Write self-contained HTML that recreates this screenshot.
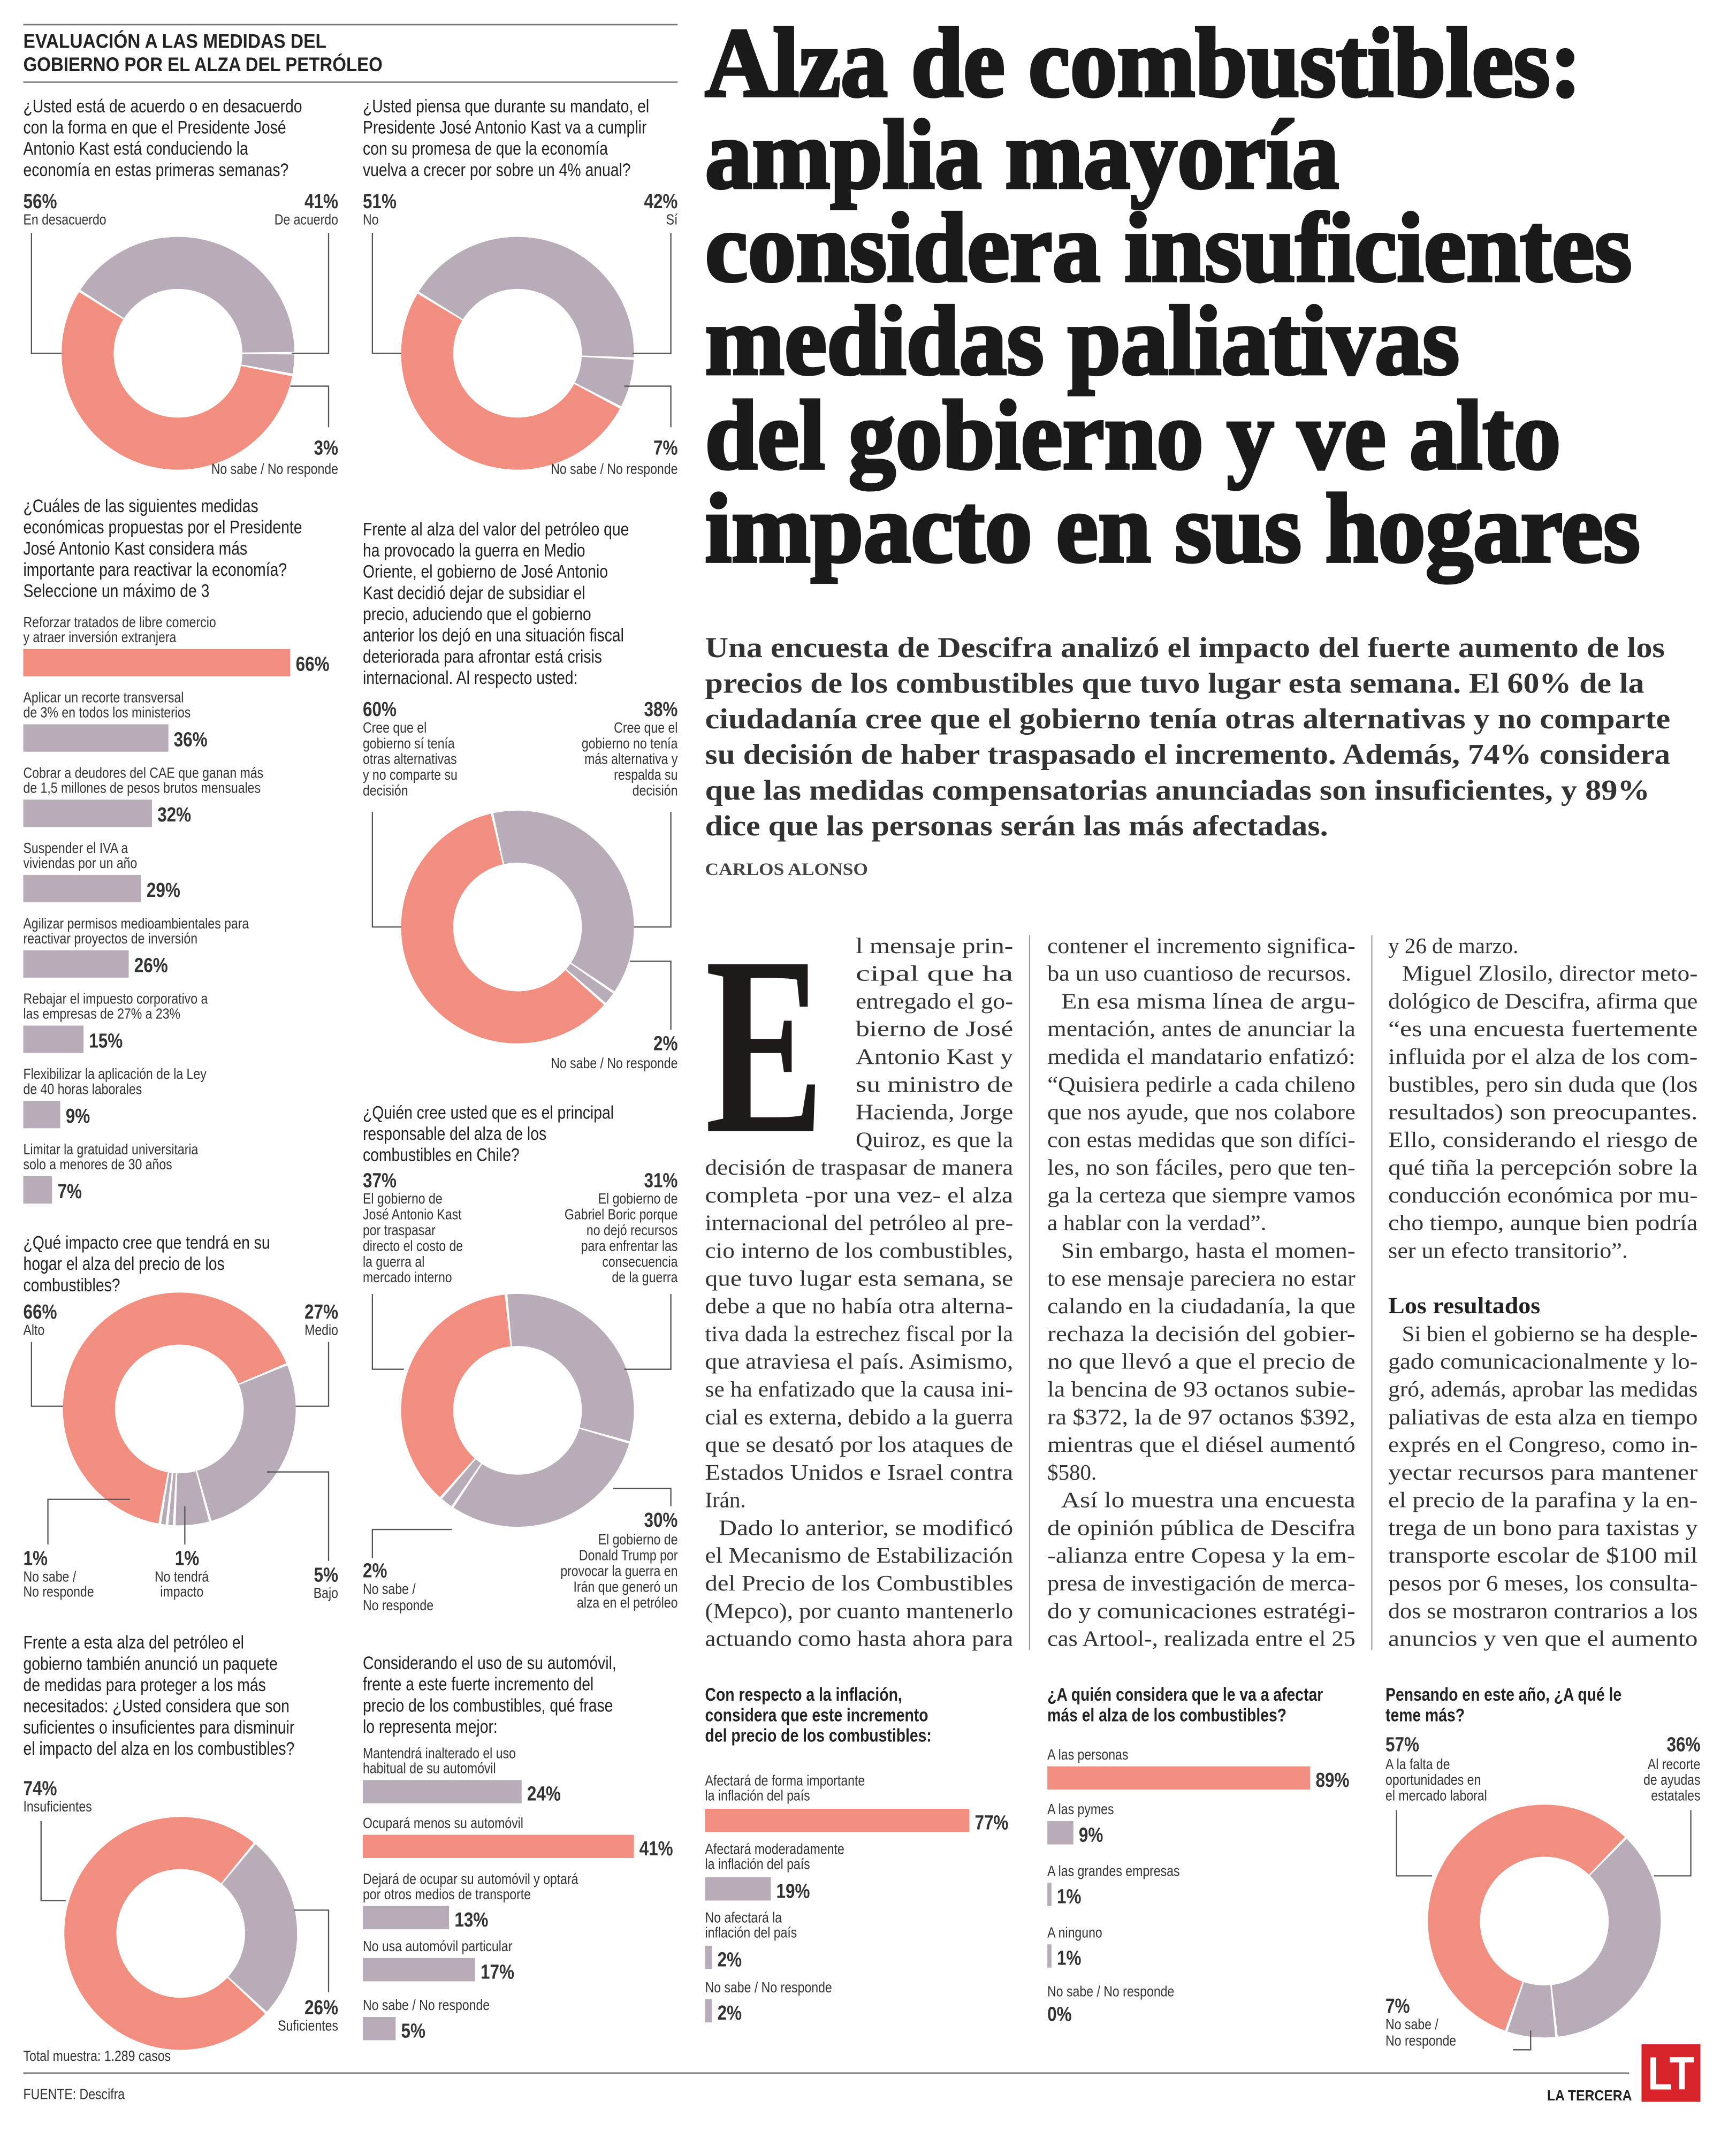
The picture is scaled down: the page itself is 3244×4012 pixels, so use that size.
<!DOCTYPE html>
<html><head><meta charset="utf-8"><style>
html,body{margin:0;padding:0;background:#fff;}
svg{display:block;}
.q{font-family:"Liberation Sans",sans-serif;font-size:13.5px;fill:#222;}
.qb{font-family:"Liberation Sans",sans-serif;font-size:13.5px;fill:#222;font-weight:bold;}
.s{font-family:"Liberation Sans",sans-serif;font-size:11px;fill:#333;}
.p{font-family:"Liberation Sans",sans-serif;font-size:15px;font-weight:bold;fill:#333;}
.h{font-family:"Liberation Sans",sans-serif;font-size:14.5px;font-weight:bold;fill:#222;}
.t{font-family:"Liberation Serif",serif;font-size:72px;font-weight:bold;fill:#1a1a1a;stroke:#1a1a1a;stroke-width:2.2;}
.d{font-family:"Liberation Serif",serif;font-size:21px;font-weight:bold;fill:#333;}
.b{font-family:"Liberation Serif",serif;font-size:16px;fill:#333;}
.ld{fill:none;stroke:#555;stroke-width:0.9;}
</style></head><body>
<svg width="3244" height="4012" viewBox="0 0 1268 1568" preserveAspectRatio="none" xmlns="http://www.w3.org/2000/svg">
<rect width="1268" height="1568" fill="#fff"/>
<!-- rules -->
<line x1="17" y1="18" x2="495" y2="18" stroke="#777" stroke-width="1"/>
<line x1="17" y1="60" x2="495" y2="60" stroke="#777" stroke-width="1"/>
<line x1="17" y1="1514" x2="1190" y2="1514" stroke="#777" stroke-width="1"/>
<line x1="752" y1="683" x2="752" y2="1205" stroke="#999" stroke-width="0.8"/>
<line x1="1002" y1="683" x2="1002" y2="1205" stroke="#999" stroke-width="0.8"/>

<!-- TITLE -->
<text class="t" x="515" y="70" textLength="640" lengthAdjust="spacingAndGlyphs">Alza de combustibles:</text>
<text class="t" x="515" y="137" textLength="463" lengthAdjust="spacingAndGlyphs">amplia mayoría</text>
<text class="t" x="515" y="205" textLength="677" lengthAdjust="spacingAndGlyphs">considera insuficientes</text>
<text class="t" x="515" y="273" textLength="551" lengthAdjust="spacingAndGlyphs">medidas paliativas</text>
<text class="t" x="515" y="342" textLength="625" lengthAdjust="spacingAndGlyphs">del gobierno y ve alto</text>
<text class="t" x="515" y="410" textLength="683" lengthAdjust="spacingAndGlyphs">impacto en sus hogares</text>

<!-- DECK -->
<text class="d" x="515" y="480" textLength="701" lengthAdjust="spacingAndGlyphs">Una encuesta de Descifra analizó el impacto del fuerte aumento de los</text>
<text class="d" x="515" y="506" textLength="686" lengthAdjust="spacingAndGlyphs">precios de los combustibles que tuvo lugar esta semana. El 60% de la</text>
<text class="d" x="515" y="532" textLength="705" lengthAdjust="spacingAndGlyphs">ciudadanía cree que el gobierno tenía otras alternativas y no comparte</text>
<text class="d" x="515" y="558" textLength="705" lengthAdjust="spacingAndGlyphs">su decisión de haber traspasado el incremento. Además, 74% considera</text>
<text class="d" x="515" y="584" textLength="690" lengthAdjust="spacingAndGlyphs">que las medidas compensatorias anunciadas son insuficientes, y 89%</text>
<text class="d" x="515" y="610" textLength="455" lengthAdjust="spacingAndGlyphs">dice que las personas serán las más afectadas.</text>
<text x="515" y="639" textLength="119" lengthAdjust="spacingAndGlyphs" style="font-family:'Liberation Serif',serif;font-size:13px;font-weight:bold;fill:#444;">CARLOS ALONSO</text>

<!-- DROP CAP -->
<text x="515" y="826" textLength="87" lengthAdjust="spacingAndGlyphs" style="font-family:'Liberation Serif',serif;font-size:186px;font-weight:bold;fill:#1e1a1a;">E</text>

<!-- BODY COL A -->
<g class="b">
<text x="625" y="696" textLength="115" lengthAdjust="spacingAndGlyphs">l mensaje prin-</text>
<text x="625" y="716.2" textLength="115" lengthAdjust="spacingAndGlyphs">cipal que ha</text>
<text x="625" y="736.5" textLength="115" lengthAdjust="spacingAndGlyphs">entregado el go-</text>
<text x="625" y="756.7" textLength="115" lengthAdjust="spacingAndGlyphs">bierno de José</text>
<text x="625" y="777" textLength="115" lengthAdjust="spacingAndGlyphs">Antonio Kast y</text>
<text x="625" y="797.2" textLength="115" lengthAdjust="spacingAndGlyphs">su ministro de</text>
<text x="625" y="817.4" textLength="115" lengthAdjust="spacingAndGlyphs">Hacienda, Jorge</text>
<text x="625" y="837.7" textLength="115" lengthAdjust="spacingAndGlyphs">Quiroz, es que la</text>
<text x="515" y="857.9" textLength="225" lengthAdjust="spacingAndGlyphs">decisión de traspasar de manera</text>
<text x="515" y="878.2" textLength="225" lengthAdjust="spacingAndGlyphs">completa -por una vez- el alza</text>
<text x="515" y="898.4" textLength="225" lengthAdjust="spacingAndGlyphs">internacional del petróleo al pre-</text>
<text x="515" y="918.6" textLength="225" lengthAdjust="spacingAndGlyphs">cio interno de los combustibles,</text>
<text x="515" y="938.9" textLength="225" lengthAdjust="spacingAndGlyphs">que tuvo lugar esta semana, se</text>
<text x="515" y="959.1" textLength="225" lengthAdjust="spacingAndGlyphs">debe a que no había otra alterna-</text>
<text x="515" y="979.4" textLength="225" lengthAdjust="spacingAndGlyphs">tiva dada la estrechez fiscal por la</text>
<text x="515" y="999.6" textLength="225" lengthAdjust="spacingAndGlyphs">que atraviesa el país. Asimismo,</text>
<text x="515" y="1019.8" textLength="225" lengthAdjust="spacingAndGlyphs">se ha enfatizado que la causa ini-</text>
<text x="515" y="1040.1" textLength="225" lengthAdjust="spacingAndGlyphs">cial es externa, debido a la guerra</text>
<text x="515" y="1060.3" textLength="225" lengthAdjust="spacingAndGlyphs">que se desató por los ataques de</text>
<text x="515" y="1080.6" textLength="225" lengthAdjust="spacingAndGlyphs">Estados Unidos e Israel contra</text>
<text x="515" y="1100.8">Irán.</text>
<text x="525" y="1121" textLength="215" lengthAdjust="spacingAndGlyphs">Dado lo anterior, se modificó</text>
<text x="515" y="1141.3" textLength="225" lengthAdjust="spacingAndGlyphs">el Mecanismo de Estabilización</text>
<text x="515" y="1161.5" textLength="225" lengthAdjust="spacingAndGlyphs">del Precio de los Combustibles</text>
<text x="515" y="1181.8" textLength="225" lengthAdjust="spacingAndGlyphs">(Mepco), por cuanto mantenerlo</text>
<text x="515" y="1202" textLength="225" lengthAdjust="spacingAndGlyphs">actuando como hasta ahora para</text>
</g>
<!-- BODY COL B -->
<g class="b">
<text x="765" y="696" textLength="225" lengthAdjust="spacingAndGlyphs">contener el incremento significa-</text>
<text x="765" y="716.2" textLength="222" lengthAdjust="spacingAndGlyphs">ba un uso cuantioso de recursos.</text>
<text x="775" y="736.5" textLength="215" lengthAdjust="spacingAndGlyphs">En esa misma línea de argu-</text>
<text x="765" y="756.7" textLength="225" lengthAdjust="spacingAndGlyphs">mentación, antes de anunciar la</text>
<text x="765" y="777" textLength="225" lengthAdjust="spacingAndGlyphs">medida el mandatario enfatizó:</text>
<text x="765" y="797.2" textLength="225" lengthAdjust="spacingAndGlyphs">“Quisiera pedirle a cada chileno</text>
<text x="765" y="817.4" textLength="225" lengthAdjust="spacingAndGlyphs">que nos ayude, que nos colabore</text>
<text x="765" y="837.7" textLength="225" lengthAdjust="spacingAndGlyphs">con estas medidas que son difíci-</text>
<text x="765" y="857.9" textLength="225" lengthAdjust="spacingAndGlyphs">les, no son fáciles, pero que ten-</text>
<text x="765" y="878.2" textLength="225" lengthAdjust="spacingAndGlyphs">ga la certeza que siempre vamos</text>
<text x="765" y="898.4" textLength="160" lengthAdjust="spacingAndGlyphs">a hablar con la verdad”.</text>
<text x="775" y="918.6" textLength="215" lengthAdjust="spacingAndGlyphs">Sin embargo, hasta el momen-</text>
<text x="765" y="938.9" textLength="225" lengthAdjust="spacingAndGlyphs">to ese mensaje pareciera no estar</text>
<text x="765" y="959.1" textLength="225" lengthAdjust="spacingAndGlyphs">calando en la ciudadanía, la que</text>
<text x="765" y="979.4" textLength="225" lengthAdjust="spacingAndGlyphs">rechaza la decisión del gobier-</text>
<text x="765" y="999.6" textLength="225" lengthAdjust="spacingAndGlyphs">no que llevó a que el precio de</text>
<text x="765" y="1019.8" textLength="225" lengthAdjust="spacingAndGlyphs">la bencina de 93 octanos subie-</text>
<text x="765" y="1040.1" textLength="225" lengthAdjust="spacingAndGlyphs">ra $372, la de 97 octanos $392,</text>
<text x="765" y="1060.3" textLength="225" lengthAdjust="spacingAndGlyphs">mientras que el diésel aumentó</text>
<text x="765" y="1080.6">$580.</text>
<text x="775" y="1100.8" textLength="215" lengthAdjust="spacingAndGlyphs">Así lo muestra una encuesta</text>
<text x="765" y="1121" textLength="225" lengthAdjust="spacingAndGlyphs">de opinión pública de Descifra</text>
<text x="765" y="1141.3" textLength="225" lengthAdjust="spacingAndGlyphs">-alianza entre Copesa y la em-</text>
<text x="765" y="1161.5" textLength="225" lengthAdjust="spacingAndGlyphs">presa de investigación de merca-</text>
<text x="765" y="1181.8" textLength="225" lengthAdjust="spacingAndGlyphs">do y comunicaciones estratégi-</text>
<text x="765" y="1202" textLength="225" lengthAdjust="spacingAndGlyphs">cas Artool-, realizada entre el 25</text>
</g>
<!-- BODY COL C -->
<g class="b">
<text x="1014" y="696">y 26 de marzo.</text>
<text x="1024" y="716.2" textLength="216" lengthAdjust="spacingAndGlyphs">Miguel Zlosilo, director meto-</text>
<text x="1014" y="736.5" textLength="226" lengthAdjust="spacingAndGlyphs">dológico de Descifra, afirma que</text>
<text x="1014" y="756.7" textLength="226" lengthAdjust="spacingAndGlyphs">“es una encuesta fuertemente</text>
<text x="1014" y="777" textLength="226" lengthAdjust="spacingAndGlyphs">influida por el alza de los com-</text>
<text x="1014" y="797.2" textLength="226" lengthAdjust="spacingAndGlyphs">bustibles, pero sin duda que (los</text>
<text x="1014" y="817.4" textLength="226" lengthAdjust="spacingAndGlyphs">resultados) son preocupantes.</text>
<text x="1014" y="837.7" textLength="226" lengthAdjust="spacingAndGlyphs">Ello, considerando el riesgo de</text>
<text x="1014" y="857.9" textLength="226" lengthAdjust="spacingAndGlyphs">qué tiña la percepción sobre la</text>
<text x="1014" y="878.2" textLength="226" lengthAdjust="spacingAndGlyphs">conducción económica por mu-</text>
<text x="1014" y="898.4" textLength="226" lengthAdjust="spacingAndGlyphs">cho tiempo, aunque bien podría</text>
<text x="1014" y="918.6" textLength="175" lengthAdjust="spacingAndGlyphs">ser un efecto transitorio”.</text>
<text x="1014" y="959.1" style="font-weight:bold;font-size:17px;fill:#222" textLength="111" lengthAdjust="spacingAndGlyphs">Los resultados</text>
<text x="1024" y="979.4" textLength="216" lengthAdjust="spacingAndGlyphs">Si bien el gobierno se ha desple-</text>
<text x="1014" y="999.6" textLength="226" lengthAdjust="spacingAndGlyphs">gado comunicacionalmente y lo-</text>
<text x="1014" y="1019.8" textLength="226" lengthAdjust="spacingAndGlyphs">gró, además, aprobar las medidas</text>
<text x="1014" y="1040.1" textLength="226" lengthAdjust="spacingAndGlyphs">paliativas de esta alza en tiempo</text>
<text x="1014" y="1060.3" textLength="226" lengthAdjust="spacingAndGlyphs">exprés en el Congreso, como in-</text>
<text x="1014" y="1080.6" textLength="226" lengthAdjust="spacingAndGlyphs">yectar recursos para mantener</text>
<text x="1014" y="1100.8" textLength="226" lengthAdjust="spacingAndGlyphs">el precio de la parafina y la en-</text>
<text x="1014" y="1121" textLength="226" lengthAdjust="spacingAndGlyphs">trega de un bono para taxistas y</text>
<text x="1014" y="1141.3" textLength="226" lengthAdjust="spacingAndGlyphs">transporte escolar de $100 mil</text>
<text x="1014" y="1161.5" textLength="226" lengthAdjust="spacingAndGlyphs">pesos por 6 meses, los consulta-</text>
<text x="1014" y="1181.8" textLength="226" lengthAdjust="spacingAndGlyphs">dos se mostraron contrarios a los</text>
<text x="1014" y="1202" textLength="226" lengthAdjust="spacingAndGlyphs">anuncios y ven que el aumento</text>
</g>

<!-- DONUTS (r=66, sw=38, C=414.69) -->
<g fill="none" stroke-width="38">
<!-- D1 -->
<circle cx="130" cy="258" r="66" stroke="#b7acb7" stroke-dasharray="168.5 500" transform="rotate(-147 130 258)"/>
<circle cx="130" cy="258" r="66" stroke="#b7acb7" stroke-dasharray="10.9 500" transform="rotate(0.6 130 258)"/>
<circle cx="130" cy="258" r="66" stroke="#f28e7f" stroke-dasharray="230.7 500" transform="rotate(11.4 130 258)"/>
<!-- D2 -->
<circle cx="378" cy="258" r="66" stroke="#b7acb7" stroke-dasharray="172.7 500" transform="rotate(-148 378 258)"/>
<circle cx="378" cy="258" r="66" stroke="#b7acb7" stroke-dasharray="27.5 500" transform="rotate(3.2 378 258)"/>
<circle cx="378" cy="258" r="66" stroke="#f28e7f" stroke-dasharray="210 500" transform="rotate(28.4 378 258)"/>
<!-- D3 -->
<circle cx="378" cy="677" r="66" stroke="#b7acb7" stroke-dasharray="156.1 500" transform="rotate(-102 378 677)"/>
<circle cx="378" cy="677" r="66" stroke="#b7acb7" stroke-dasharray="6.8 500" transform="rotate(34.8 378 677)"/>
<circle cx="378" cy="677" r="66" stroke="#f28e7f" stroke-dasharray="247.3 500" transform="rotate(42 378 677)"/>
<!-- D4 -->
<circle cx="131" cy="1029" r="66" stroke="#b7acb7" stroke-dasharray="110.5 500" transform="rotate(-22 131 1029)"/>
<circle cx="131" cy="1029" r="66" stroke="#b7acb7" stroke-dasharray="19.2 500" transform="rotate(75.2 131 1029)"/>
<circle cx="131" cy="1029" r="66" stroke="#b7acb7" stroke-dasharray="2.6 500" transform="rotate(93.2 131 1029)"/>
<circle cx="131" cy="1029" r="66" stroke="#b7acb7" stroke-dasharray="2.6 500" transform="rotate(96.8 131 1029)"/>
<circle cx="131" cy="1029" r="66" stroke="#f28e7f" stroke-dasharray="272.2 500" transform="rotate(100.4 131 1029)"/>
<!-- D5 -->
<circle cx="378" cy="1030" r="66" stroke="#b7acb7" stroke-dasharray="127.1 500" transform="rotate(-95 378 1030)"/>
<circle cx="378" cy="1030" r="66" stroke="#b7acb7" stroke-dasharray="122.9 500" transform="rotate(16.6 378 1030)"/>
<circle cx="378" cy="1030" r="66" stroke="#b7acb7" stroke-dasharray="6.8 500" transform="rotate(124.6 378 1030)"/>
<circle cx="378" cy="1030" r="66" stroke="#f28e7f" stroke-dasharray="151.9 500" transform="rotate(131.8 378 1030)"/>
<!-- D6 -->
<circle cx="132" cy="1412" r="66" stroke="#b7acb7" stroke-dasharray="106.3 500" transform="rotate(-50 132 1412)"/>
<circle cx="132" cy="1412" r="66" stroke="#f28e7f" stroke-dasharray="305.4 500" transform="rotate(43.6 132 1412)"/>
<!-- D7 -->
<circle cx="1128" cy="1403" r="66" stroke="#b7acb7" stroke-dasharray="147.8 500" transform="rotate(-45 1128 1403)"/>
<circle cx="1128" cy="1403" r="66" stroke="#b7acb7" stroke-dasharray="27.5 500" transform="rotate(84.6 1128 1403)"/>
<circle cx="1128" cy="1403" r="66" stroke="#f28e7f" stroke-dasharray="234.9 500" transform="rotate(109.8 1128 1403)"/>
</g>

<!-- leader lines -->
<path class="ld" d="M23 170V258H45 M240 170V258H213 M240 312V282H212"/>
<path class="ld" d="M272 170V258H293 M490 170V258H462 M490 312V282H456"/>
<path class="ld" d="M272 593V677H293 M490 593V677H463 M490 752V702H460"/>
<path class="ld" d="M23 980V1027H46 M240 980V1027H216 M35 1128V1095H95 M135 1128V1100 M240 1140V1075H195"/>
<path class="ld" d="M272 945V1000H295 M490 945V1000H456 M490 1100V1087H448 M272 1138V1117H330"/>
<path class="ld" d="M30 1330V1388H48 M240 1455V1395H215"/>
<path class="ld" d="M1020 1322V1370H1046 M1235 1322V1370H1208 M1105 1497H1118V1483"/>

<!-- BARS -->
<g>
<rect x="17" y="474" width="195" height="20" fill="#f28e7f"/>
<rect x="17" y="529" width="106" height="20" fill="#b7acb7"/>
<rect x="17" y="584" width="94" height="20" fill="#b7acb7"/>
<rect x="17" y="639" width="86" height="20" fill="#b7acb7"/>
<rect x="17" y="694" width="77" height="20" fill="#b7acb7"/>
<rect x="17" y="749" width="44" height="20" fill="#b7acb7"/>
<rect x="17" y="804" width="27" height="20" fill="#b7acb7"/>
<rect x="17" y="859" width="21" height="20" fill="#b7acb7"/>

<rect x="265" y="1300" width="116" height="17" fill="#b7acb7"/>
<rect x="265" y="1340" width="198" height="17" fill="#f28e7f"/>
<rect x="265" y="1392" width="63" height="17" fill="#b7acb7"/>
<rect x="265" y="1430" width="82" height="17" fill="#b7acb7"/>
<rect x="265" y="1473" width="24" height="17" fill="#b7acb7"/>

<rect x="515" y="1321" width="193" height="17" fill="#f28e7f"/>
<rect x="515" y="1371" width="48" height="17" fill="#b7acb7"/>
<rect x="515" y="1421" width="5" height="17" fill="#b7acb7"/>
<rect x="515" y="1460" width="5" height="17" fill="#b7acb7"/>

<rect x="765" y="1290" width="192" height="17" fill="#f28e7f"/>
<rect x="765" y="1330" width="19" height="17" fill="#b7acb7"/>
<rect x="765" y="1375" width="3" height="17" fill="#b7acb7"/>
<rect x="765" y="1420" width="3" height="17" fill="#b7acb7"/>
</g>

<!-- COL 1 TEXT -->
<g transform="translate(17,0) scale(0.82,1)">
<text class="h" x="0" y="35" textLength="270" lengthAdjust="spacingAndGlyphs">EVALUACIÓN A LAS MEDIDAS DEL</text>
<text class="h" x="0" y="52" textLength="320" lengthAdjust="spacingAndGlyphs">GOBIERNO POR EL ALZA DEL PETRÓLEO</text>
<text class="q" x="0" y="82">¿Usted está de acuerdo o en desacuerdo</text>
<text class="q" x="0" y="97.5">con la forma en que el Presidente José</text>
<text class="q" x="0" y="113">Antonio Kast está conduciendo la</text>
<text class="q" x="0" y="128.5">economía en estas primeras semanas?</text>
<text class="p" x="0" y="152">56%</text><text class="s" x="0" y="164">En desacuerdo</text>
<text class="p" x="280.5" y="152" text-anchor="end">41%</text><text class="s" x="280.5" y="164" text-anchor="end">De acuerdo</text>
<text class="p" x="280.5" y="332" text-anchor="end">3%</text><text class="s" x="280.5" y="346" text-anchor="end">No sabe / No responde</text>

<text class="q" x="0" y="374">¿Cuáles de las siguientes medidas</text>
<text class="q" x="0" y="389.5">económicas propuestas por el Presidente</text>
<text class="q" x="0" y="405">José Antonio Kast considera más</text>
<text class="q" x="0" y="420.5">importante para reactivar la economía?</text>
<text class="q" x="0" y="436">Seleccione un máximo de 3</text>

<text class="s" x="0" y="458">Reforzar tratados de libre comercio</text><text class="s" x="0" y="469">y atraer inversión extranjera</text>
<text class="p" x="242.7" y="490">66%</text>
<text class="s" x="0" y="513">Aplicar un recorte transversal</text><text class="s" x="0" y="524">de 3% en todos los ministerios</text>
<text class="p" x="134" y="545">36%</text>
<text class="s" x="0" y="568">Cobrar a deudores del CAE que ganan más</text><text class="s" x="0" y="579">de 1,5 millones de pesos brutos mensuales</text>
<text class="p" x="119.5" y="600">32%</text>
<text class="s" x="0" y="623">Suspender el IVA a</text><text class="s" x="0" y="634">viviendas por un año</text>
<text class="p" x="109.8" y="655">29%</text>
<text class="s" x="0" y="678">Agilizar permisos medioambientales para</text><text class="s" x="0" y="689">reactivar proyectos de inversión</text>
<text class="p" x="98.8" y="710">26%</text>
<text class="s" x="0" y="733">Rebajar el impuesto corporativo a</text><text class="s" x="0" y="744">las empresas de 27% a 23%</text>
<text class="p" x="58.5" y="765">15%</text>
<text class="s" x="0" y="788">Flexibilizar la aplicación de la Ley</text><text class="s" x="0" y="799">de 40 horas laborales</text>
<text class="p" x="37.8" y="820">9%</text>
<text class="s" x="0" y="843">Limitar la gratuidad universitaria</text><text class="s" x="0" y="854">solo a menores de 30 años</text>
<text class="p" x="30.5" y="875">7%</text>

<text class="q" x="0" y="912">¿Qué impacto cree que tendrá en su</text>
<text class="q" x="0" y="927.5">hogar el alza del precio de los</text>
<text class="q" x="0" y="943">combustibles?</text>
<text class="p" x="0" y="963">66%</text><text class="s" x="0" y="975">Alto</text>
<text class="p" x="280.5" y="963" text-anchor="end">27%</text><text class="s" x="280.5" y="975" text-anchor="end">Medio</text>
<text class="p" x="0" y="1143">1%</text><text class="s" x="0" y="1155">No sabe /</text><text class="s" x="0" y="1166">No responde</text>
<text class="p" x="135" y="1143">1%</text><text class="s" x="117" y="1155">No tendrá</text><text class="s" x="122" y="1166">impacto</text>
<text class="p" x="280.5" y="1155" text-anchor="end">5%</text><text class="s" x="280.5" y="1167" text-anchor="end">Bajo</text>

<text class="q" x="0" y="1204">Frente a esta alza del petróleo el</text>
<text class="q" x="0" y="1219.5">gobierno también anunció un paquete</text>
<text class="q" x="0" y="1235">de medidas para proteger a los más</text>
<text class="q" x="0" y="1250.5">necesitados: ¿Usted considera que son</text>
<text class="q" x="0" y="1266">suficientes o insuficientes para disminuir</text>
<text class="q" x="0" y="1281.5">el impacto del alza en los combustibles?</text>
<text class="p" x="0" y="1311">74%</text><text class="s" x="0" y="1323">Insuficientes</text>
<text class="p" x="280.5" y="1471" text-anchor="end">26%</text><text class="s" x="280.5" y="1483" text-anchor="end">Suficientes</text>
<text class="s" x="0" y="1505">Total muestra: 1.289 casos</text>
<text class="s" x="0" y="1533">FUENTE: Descifra</text>
</g>

<!-- COL 2 TEXT -->
<g transform="translate(265,0) scale(0.82,1)">
<text class="q" x="0" y="82">¿Usted piensa que durante su mandato, el</text>
<text class="q" x="0" y="97.5">Presidente José Antonio Kast va a cumplir</text>
<text class="q" x="0" y="113">con su promesa de que la economía</text>
<text class="q" x="0" y="128.5">vuelva a crecer por sobre un 4% anual?</text>
<text class="p" x="0" y="152">51%</text><text class="s" x="0" y="164">No</text>
<text class="p" x="280.5" y="152" text-anchor="end">42%</text><text class="s" x="280.5" y="164" text-anchor="end">Sí</text>
<text class="p" x="280.5" y="332" text-anchor="end">7%</text><text class="s" x="280.5" y="346" text-anchor="end">No sabe / No responde</text>

<text class="q" x="0" y="391">Frente al alza del valor del petróleo que</text>
<text class="q" x="0" y="406.5">ha provocado la guerra en Medio</text>
<text class="q" x="0" y="422">Oriente, el gobierno de José Antonio</text>
<text class="q" x="0" y="437.5">Kast decidió dejar de subsidiar el</text>
<text class="q" x="0" y="453">precio, aduciendo que el gobierno</text>
<text class="q" x="0" y="468.5">anterior los dejó en una situación fiscal</text>
<text class="q" x="0" y="484">deteriorada para afrontar está crisis</text>
<text class="q" x="0" y="499.5">internacional. Al respecto usted:</text>
<text class="p" x="0" y="523">60%</text>
<text class="s" x="0" y="535">Cree que el</text><text class="s" x="0" y="546.5">gobierno sí tenía</text><text class="s" x="0" y="558">otras alternativas</text><text class="s" x="0" y="569.5">y no comparte su</text><text class="s" x="0" y="581">decisión</text>
<text class="p" x="280.5" y="523" text-anchor="end">38%</text>
<g text-anchor="end"><text class="s" x="280.5" y="535">Cree que el</text><text class="s" x="280.5" y="546.5">gobierno no tenía</text><text class="s" x="280.5" y="558">más alternativa y</text><text class="s" x="280.5" y="569.5">respalda su</text><text class="s" x="280.5" y="581">decisión</text></g>
<text class="p" x="280.5" y="767" text-anchor="end">2%</text><text class="s" x="280.5" y="780" text-anchor="end">No sabe / No responde</text>

<text class="q" x="0" y="817">¿Quién cree usted que es el principal</text>
<text class="q" x="0" y="832.5">responsable del alza de los</text>
<text class="q" x="0" y="848">combustibles en Chile?</text>
<text class="p" x="0" y="867">37%</text>
<text class="s" x="0" y="879">El gobierno de</text><text class="s" x="0" y="890.5">José Antonio Kast</text><text class="s" x="0" y="902">por traspasar</text><text class="s" x="0" y="913.5">directo el costo de</text><text class="s" x="0" y="925">la guerra al</text><text class="s" x="0" y="936.5">mercado interno</text>
<text class="p" x="280.5" y="867" text-anchor="end">31%</text>
<g text-anchor="end"><text class="s" x="280.5" y="879">El gobierno de</text><text class="s" x="280.5" y="890.5">Gabriel Boric porque</text><text class="s" x="280.5" y="902">no dejó recursos</text><text class="s" x="280.5" y="913.5">para enfrentar las</text><text class="s" x="280.5" y="925">consecuencia</text><text class="s" x="280.5" y="936.5">de la guerra</text></g>
<text class="p" x="0" y="1152">2%</text><text class="s" x="0" y="1164">No sabe /</text><text class="s" x="0" y="1176">No responde</text>
<text class="p" x="280.5" y="1115" text-anchor="end">30%</text>
<g text-anchor="end"><text class="s" x="280.5" y="1128">El gobierno de</text><text class="s" x="280.5" y="1139.5">Donald Trump por</text><text class="s" x="280.5" y="1151">provocar la guerra en</text><text class="s" x="280.5" y="1162.5">Irán que generó un</text><text class="s" x="280.5" y="1174">alza en el petróleo</text></g>

<text class="q" x="0" y="1219">Considerando el uso de su automóvil,</text>
<text class="q" x="0" y="1234.5">frente a este fuerte incremento del</text>
<text class="q" x="0" y="1250">precio de los combustibles, qué frase</text>
<text class="q" x="0" y="1265.5">lo representa mejor:</text>
<text class="s" x="0" y="1284">Mantendrá inalterado el uso</text><text class="s" x="0" y="1295">habitual de su automóvil</text>
<text class="p" x="146.3" y="1315">24%</text>
<text class="s" x="0" y="1335">Ocupará menos su automóvil</text>
<text class="p" x="246.3" y="1355">41%</text>
<text class="s" x="0" y="1376">Dejará de ocupar su automóvil y optará</text><text class="s" x="0" y="1387">por otros medios de transporte</text>
<text class="p" x="81.7" y="1407">13%</text>
<text class="s" x="0" y="1425">No usa automóvil particular</text>
<text class="p" x="104.9" y="1445">17%</text>
<text class="s" x="0" y="1468">No sabe / No responde</text>
<text class="p" x="34.1" y="1488">5%</text>
</g>

<!-- BOTTOM MID -->
<g transform="translate(515,0) scale(0.82,1)">
<text class="qb" x="0" y="1242">Con respecto a la inflación,</text>
<text class="qb" x="0" y="1257">considera que este incremento</text>
<text class="qb" x="0" y="1272">del precio de los combustibles:</text>
<text class="s" x="0" y="1304">Afectará de forma importante</text><text class="s" x="0" y="1315">la inflación del país</text>
<text class="p" x="240.2" y="1336">77%</text>
<text class="s" x="0" y="1354">Afectará moderadamente</text><text class="s" x="0" y="1365">la inflación del país</text>
<text class="p" x="63.4" y="1386">19%</text>
<text class="s" x="0" y="1404">No afectará la</text><text class="s" x="0" y="1415">inflación del país</text>
<text class="p" x="11" y="1436">2%</text>
<text class="s" x="0" y="1455">No sabe / No responde</text>
<text class="p" x="11" y="1475">2%</text>
</g>

<!-- BOTTOM COL 4 -->
<g transform="translate(765,0) scale(0.82,1)">
<text class="qb" x="0" y="1242">¿A quién considera que le va a afectar</text>
<text class="qb" x="0" y="1257">más el alza de los combustibles?</text>
<text class="s" x="0" y="1285">A las personas</text>
<text class="p" x="239" y="1305">89%</text>
<text class="s" x="0" y="1325">A las pymes</text>
<text class="p" x="28" y="1345">9%</text>
<text class="s" x="0" y="1370">A las grandes empresas</text>
<text class="p" x="8.5" y="1390">1%</text>
<text class="s" x="0" y="1415">A ninguno</text>
<text class="p" x="8.5" y="1435">1%</text>
<text class="s" x="0" y="1458">No sabe / No responde</text>
<text class="p" x="0" y="1476">0%</text>
</g>

<!-- BOTTOM COL 5 -->
<g transform="translate(1012,0) scale(0.82,1)">
<text class="qb" x="0" y="1242">Pensando en este año, ¿A qué le</text>
<text class="qb" x="0" y="1257">teme más?</text>
<text class="p" x="0" y="1279">57%</text>
<text class="s" x="0" y="1292">A la falta de</text><text class="s" x="0" y="1303.5">oportunidades en</text><text class="s" x="0" y="1315">el mercado laboral</text>
<text class="p" x="280.5" y="1279" text-anchor="end">36%</text>
<g text-anchor="end"><text class="s" x="280.5" y="1292">Al recorte</text><text class="s" x="280.5" y="1303.5">de ayudas</text><text class="s" x="280.5" y="1315">estatales</text></g>
<text class="p" x="0" y="1470">7%</text>
<text class="s" x="0" y="1482">No sabe /</text><text class="s" x="0" y="1494">No responde</text>
</g>

<!-- LOGO -->
<text x="1130" y="1534" textLength="62" lengthAdjust="spacingAndGlyphs" style="font-family:'Liberation Sans',sans-serif;font-size:11px;font-weight:bold;fill:#222;">LA TERCERA</text>
<rect x="1199" y="1493" width="43" height="42" fill="#d9232a"/>
<text x="1220.5" y="1526" text-anchor="middle" textLength="34" lengthAdjust="spacingAndGlyphs" style="font-family:'Liberation Sans',sans-serif;font-size:34px;font-weight:bold;fill:#fff;">LT</text>
</svg>
</body></html>
